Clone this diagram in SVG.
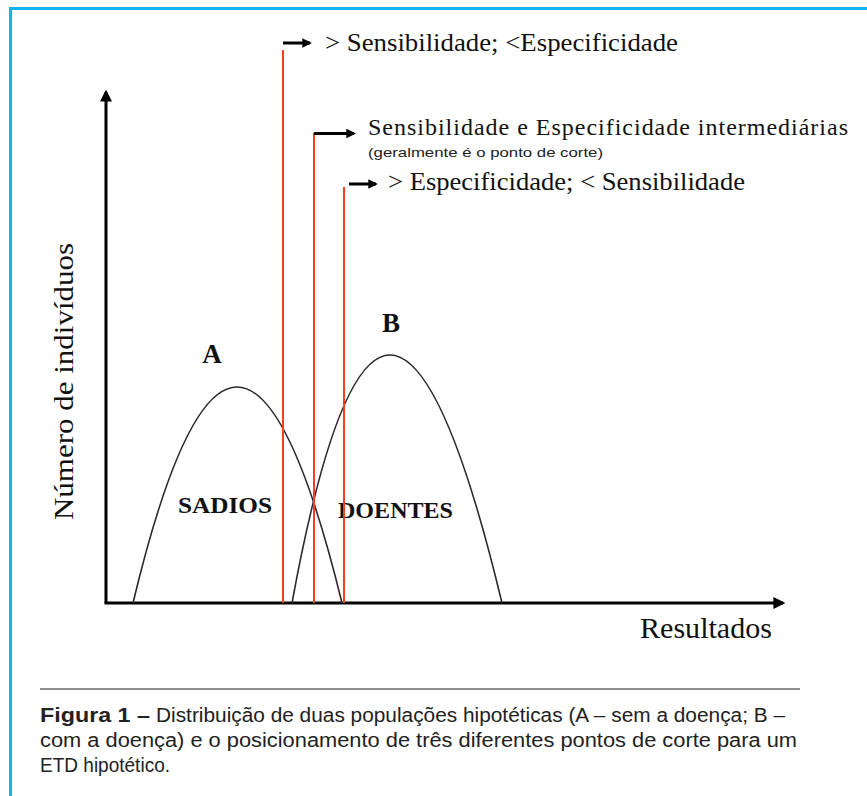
<svg xmlns="http://www.w3.org/2000/svg" width="867" height="796" viewBox="0 0 867 796">
<style>
.serif{font-family:"Liberation Serif","Times New Roman",serif;fill:#111}
.bold{font-weight:bold}
.sans{font-family:"Liberation Sans",Arial,sans-serif;fill:#222}
.axis{stroke:#000;stroke-width:3;fill:none}
.cut{stroke:#f3401f;stroke-width:2;fill:none}
.curve{stroke:#2a2a2a;stroke-width:1.6;fill:none}
.ptr{stroke:#000;stroke-width:3;fill:none}
</style>
<defs>
<marker id="axhead" viewBox="0 0 10 10" refX="8" refY="5" markerWidth="4" markerHeight="4" markerUnits="strokeWidth" orient="auto">
<path d="M0,0 L10,5 L0,10 z" fill="#000"/>
</marker>
<marker id="ptrhead" viewBox="0 0 10 10" refX="8" refY="5" markerWidth="3.2" markerHeight="3.2" markerUnits="strokeWidth" orient="auto">
<path d="M0,0 L10,5 L0,10 z" fill="#000"/>
</marker>
</defs>
<rect width="867" height="796" fill="#fff"/>
<g id="frame">
<path d="M10.5,796 L10.5,8.5 L867,8.5" stroke="#12b3f0" stroke-width="3" fill="none"/>
</g>
<g id="axes">
<line class="axis" x1="106" y1="603" x2="106" y2="92" marker-end="url(#axhead)"/>
<line class="axis" x1="104.5" y1="603" x2="783" y2="603" marker-end="url(#axhead)"/>
<text class="serif" x="0" y="0" font-size="28" textLength="277" lengthAdjust="spacingAndGlyphs" transform="translate(73,520) rotate(-90)">Número de indivíduos</text>
<text class="serif" x="640" y="638" font-size="29" textLength="132" lengthAdjust="spacingAndGlyphs">Resultados</text>
</g>
<g id="curveA">
<path class="curve" d="M133,603 Q236.5,171 342,603"/>
<text class="serif bold" x="212" y="363" font-size="27" text-anchor="middle">A</text>
<text class="serif bold" x="178" y="513" font-size="23" textLength="94" lengthAdjust="spacingAndGlyphs">SADIOS</text>
</g>
<g id="curveB">
<path class="curve" d="M292,603 Q383,107 502,603"/>
<text class="serif bold" x="391" y="332" font-size="27" text-anchor="middle">B</text>
<text class="serif bold" x="338" y="518" font-size="23" textLength="115" lengthAdjust="spacingAndGlyphs">DOENTES</text>
</g>
<g id="connectors">
<line class="cut" x1="283" y1="50" x2="283" y2="603"/>
<line class="cut" x1="314" y1="133" x2="314" y2="603"/>
<line class="cut" x1="344" y1="187" x2="344" y2="603"/>
<line class="ptr" x1="283" y1="43" x2="310" y2="43" marker-end="url(#ptrhead)"/>
<line class="ptr" x1="314" y1="133.5" x2="354" y2="133.5" marker-end="url(#ptrhead)"/>
<line class="ptr" x1="349" y1="184" x2="376" y2="184" marker-end="url(#ptrhead)"/>
</g>
<g id="cut1">
<text class="serif" x="325" y="51" font-size="25" textLength="353" lengthAdjust="spacingAndGlyphs">&gt; Sensibilidade; &lt;Especificidade</text>
</g>
<g id="cut2">
<text class="serif" x="368" y="135" font-size="24" textLength="480" lengthAdjust="spacing">Sensibilidade e Especificidade intermediárias</text>
<text class="sans" x="368" y="157" font-size="13" textLength="235" lengthAdjust="spacingAndGlyphs">(geralmente é o ponto de corte)</text>
</g>
<g id="cut3">
<text class="serif" x="388" y="190" font-size="26" textLength="357" lengthAdjust="spacingAndGlyphs">&gt; Especificidade; &lt; Sensibilidade</text>
</g>
<g id="caption">
<line x1="40" y1="689" x2="800" y2="689" stroke="#222" stroke-width="1.2"/>
<text class="sans bold" x="40" y="722" font-size="19.5" textLength="110" lengthAdjust="spacingAndGlyphs">Figura 1 –</text>
<text class="sans" x="156" y="722" font-size="19.5" textLength="629" lengthAdjust="spacingAndGlyphs">Distribuição de duas populações hipotéticas (A – sem a doença; B –</text>
<text class="sans" x="40" y="747" font-size="19.5" textLength="757" lengthAdjust="spacingAndGlyphs">com a doença) e o posicionamento de três diferentes pontos de corte para um</text>
<text class="sans" x="40" y="772" font-size="19.5" textLength="130" lengthAdjust="spacingAndGlyphs">ETD hipotético.</text>
</g>
</svg>
